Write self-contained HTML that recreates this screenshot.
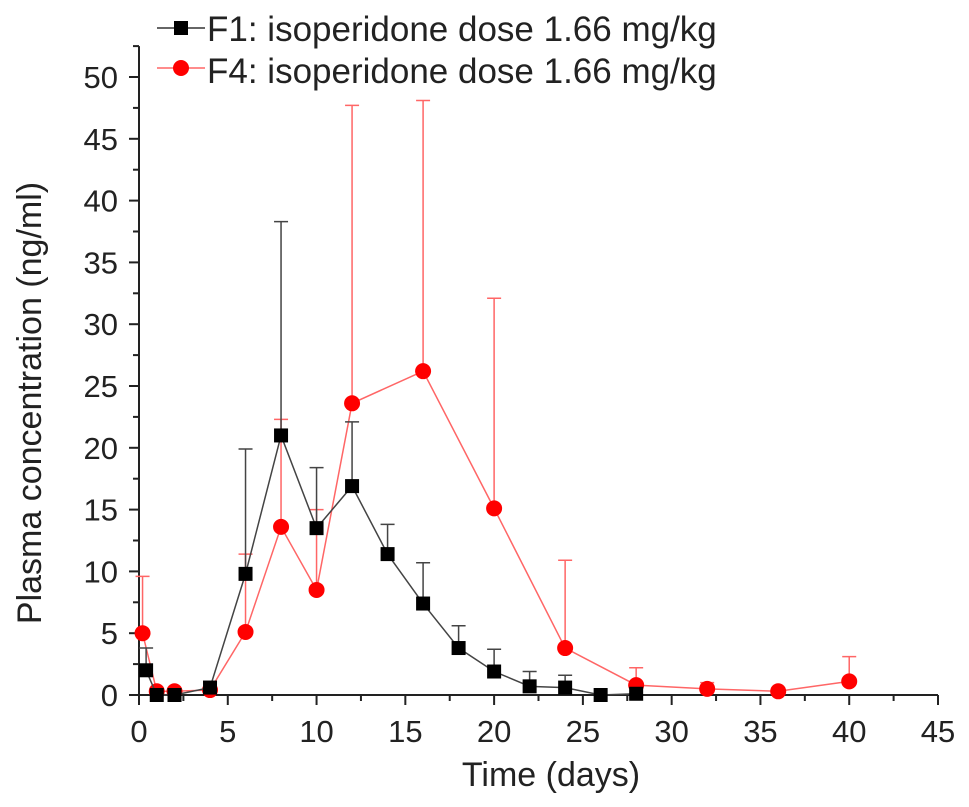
<!DOCTYPE html>
<html><head><meta charset="utf-8">
<style>
html,body{margin:0;padding:0;background:#fff;}
svg{display:block;font-family:"Liberation Sans",Arial,sans-serif;}
</style></head>
<body>
<svg id="chart" width="969" height="807" viewBox="0 0 969 807" xmlns="http://www.w3.org/2000/svg">
<g id="axes"></g>
<g id="series"></g>
<g id="legend">
  <line x1="157" y1="28" x2="205" y2="28" stroke="#333" stroke-width="1.5"/>
  <rect x="174" y="21" width="14" height="14" fill="#000"/>
  <text x="207" y="41" font-size="35" fill="#222">F1: isoperidone dose 1.66 mg/kg</text>
  <line x1="157" y1="68" x2="205" y2="68" stroke="#f66" stroke-width="1.5"/>
  <circle cx="181" cy="68" r="8" fill="#f00"/>
  <text x="207" y="83" font-size="35" fill="#222">F4: isoperidone dose 1.66 mg/kg</text>
</g>
<text x="551" y="786" font-size="34" text-anchor="middle" fill="#222">Time (days)</text>
<text transform="translate(41,403) rotate(-90)" font-size="34" text-anchor="middle" fill="#222">Plasma concentration (ng/ml)</text>
</svg>
<script>
const f1Time = [0.4, 1, 2, 4, 6, 8, 10, 12, 14, 16, 18, 20, 22, 24, 26, 28];
const f1Value = [2.0, 0.0, 0.0, 0.6, 9.8, 21.0, 13.5, 16.9, 11.4, 7.4, 3.8, 1.9, 0.7, 0.6, 0.0, 0.1];
const f1Upper = [3.8, 0.0, 0.0, 1.1, 19.9, 38.3, 18.4, 22.1, 13.8, 10.7, 5.6, 3.7, 1.9, 1.6, 0.0, 0.1];
const f4Time = [0.2, 1, 2, 4, 6, 8, 10, 12, 16, 20, 24, 28, 32, 36, 40];
const f4Value = [5.0, 0.3, 0.3, 0.4, 5.1, 13.6, 8.5, 23.6, 26.2, 15.1, 3.8, 0.8, 0.5, 0.3, 1.1];
const f4Upper = [9.6, 0.3, 0.3, 0.4, 11.4, 22.3, 15.0, 47.7, 48.1, 32.1, 10.9, 2.2, 1.0, 0.3, 3.1];
const xTicks = [0, 5, 10, 15, 20, 25, 30, 35, 40, 45];
const yTicks = [0, 5, 10, 15, 20, 25, 30, 35, 40, 45, 50];

const NS = "http://www.w3.org/2000/svg";
const X0 = 139, X1 = 938, Y0 = 695, Y50 = 77;
function xs(v){ return X0 + v * (X1 - X0) / 45; }
function ys(v){ return Y0 - v * (Y0 - Y50) / 50; }
function mk(tag, attrs, parent){ const e = document.createElementNS(NS, tag); for (const k in attrs) e.setAttribute(k, attrs[k]); parent.appendChild(e); return e; }

const axesG = document.getElementById('axes');
let el = mk('line', {x1: X0 - 10, y1: Y0, x2: X1, y2: Y0, stroke: '#222', 'stroke-width': 2}, axesG);


el = mk('line', {x1: X0, y1: Y0, x2: X0, y2: ys(52.5), stroke: '#222', 'stroke-width': 2}, axesG);


xTicks.forEach(function(t, i){
  let l = mk('line', {x1: xs(t), y1: Y0, x2: xs(t), y2: Y0 + 10, stroke: '#222', 'stroke-width': 2}, axesG);
  
  
  if (i < xTicks.length - 1) {
    let m = mk('line', {x1: xs(t + 2.5), y1: Y0, x2: xs(t + 2.5), y2: Y0 + 6, stroke: '#222', 'stroke-width': 2}, axesG);
    
    
  }
  let tx = mk('text', {x: xs(t), y: 742, 'font-size': 31, 'text-anchor': 'middle', fill: '#222'}, axesG);
  tx.textContent = t;
  
  
});
yTicks.forEach(function(t){
  let l = mk('line', {x1: X0 - 10, y1: ys(t), x2: X0, y2: ys(t), stroke: '#222', 'stroke-width': 2}, axesG);
  
  
  let m = mk('line', {x1: X0 - 6, y1: ys(t + 2.5), x2: X0, y2: ys(t + 2.5), stroke: '#222', 'stroke-width': 2}, axesG);
  
  
  let tx = mk('text', {x: 118, y: ys(t) + 11, 'font-size': 31, 'text-anchor': 'end', fill: '#222'}, axesG);
  tx.textContent = t;
  
  
});

const ser = document.getElementById('series');
function drawSeries(times, vals, ups, color, lineColor, shape, name){
  const g = mk('g', {}, ser);
  
  
  times.forEach(function(t, i){
    if (ups[i] > vals[i]) {
      let e = mk('path', {d: 'M' + xs(t) + ' ' + ys(vals[i]) + 'V' + ys(ups[i]) + 'M' + (xs(t) - 7) + ' ' + ys(ups[i]) + 'H' + (xs(t) + 7), stroke: lineColor, 'stroke-width': 1.5, fill: 'none'}, g);
      
      
    }
  });
  const pts = times.map(function(t, i){ return xs(t) + ',' + ys(vals[i]); }).join(' ');
  let pl = mk('polyline', {points: pts, fill: 'none', stroke: lineColor, 'stroke-width': 1.5}, g);
  
  
  times.forEach(function(t, i){
    let m;
    if (shape === 'square') m = mk('rect', {x: xs(t) - 7, y: ys(vals[i]) - 7, width: 14, height: 14, fill: color}, g);
    else m = mk('circle', {cx: xs(t), cy: ys(vals[i]), r: 8, fill: color}, g);
    
    
  });
}
drawSeries(f4Time, f4Value, f4Upper, '#f00', '#f66', 'circle', 'f4');
drawSeries(f1Time, f1Value, f1Upper, '#000', '#444', 'square', 'f1');
</script>
</body></html>
